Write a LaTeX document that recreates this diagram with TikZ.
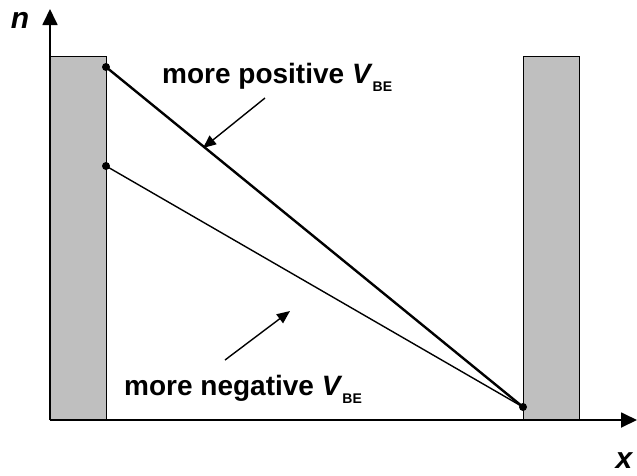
\documentclass[tikz,border=0pt]{standalone}
\usepackage{fontspec}
\setmainfont{Liberation Sans}
\usetikzlibrary{arrows.meta}
\begin{document}
\begin{tikzpicture}[x=1pt,y=-1pt,
  region/.style={draw=black,fill=gray!50,line width=1pt},
  axis/.style={line width=1.8pt,-{Triangle[length=16pt,width=15pt]}},
  dotc/.style={circle,fill=black,inner sep=0pt,minimum size=8pt},
  lbl/.style={font=\bfseries\fontsize{28}{30}\selectfont,inner sep=0pt},
  pointer/.style={line width=1.4pt,-{Triangle[length=13pt,width=11pt]}}]
\useasboundingbox (0,0) rectangle (637,475);
\draw[region] (50,56) rectangle (106,420);
\draw[region] (523,56) rectangle (579,420);
\coordinate (O) at (50,420);
\coordinate (ytip) at (50,9);
\coordinate (xtip) at (637,420);
\draw[axis] (O) -- (ytip);
\draw[axis] (O) -- (xtip);
\node[dotc] (p1) at (106,67) {};
\node[dotc] (p2) at (106,166) {};
\node[dotc] (p3) at (523,407) {};
\draw[line width=2.4pt] (p1.center) -- (p3.center);
\draw[line width=1.4pt] (p2.center) -- (p3.center);
\node[lbl,anchor=base west] (tpos) at (162,83) {more positive \textit{V}\raisebox{-8pt}{\fontsize{14}{16}\selectfont BE}};
\node[lbl,anchor=base west] (tneg) at (124,395) {more negative \textit{V}\raisebox{-8pt}{\fontsize{14}{16}\selectfont BE}};
\coordinate (a1s) at (265,98);
\coordinate (a1e) at (203,148);
\coordinate (a2s) at (225,360);
\coordinate (a2e) at (290,311);
\draw[pointer] (a1s) -- (a1e);
\draw[pointer] (a2s) -- (a2e);
\node[font=\bfseries\itshape\fontsize{30}{32}\selectfont,inner sep=0pt] (n) at (20,20) {n};
\node[font=\bfseries\itshape\fontsize{30}{32}\selectfont,inner sep=0pt] (xl) at (624,461) {x};
\end{tikzpicture}
\end{document}
